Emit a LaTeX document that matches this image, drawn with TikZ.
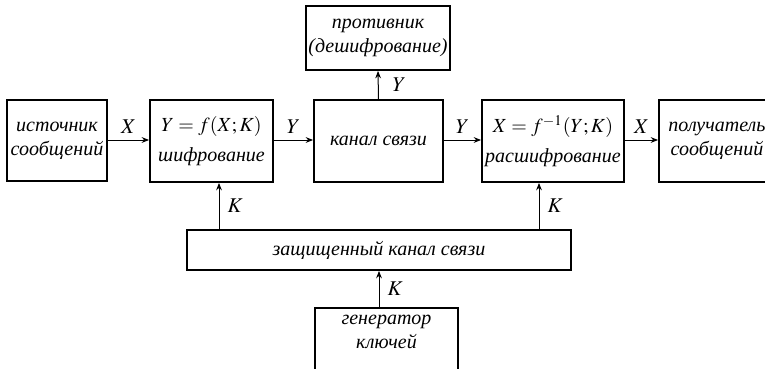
\documentclass[tikz,border=0pt]{standalone}
\usepackage{mathptmx}
\usepackage{fontspec}
\setmainfont{Liberation Serif}
\usetikzlibrary{arrows.meta, positioning}

\begin{document}
\begin{tikzpicture}[
    x=0.5pt, y=-0.5pt,
    box/.style={rectangle, draw, line width=0.9pt, inner sep=1pt, align=center,
        font=\fontsize{10}{12}\selectfont\itshape},
    arrow/.style={-{Stealth[length=1.3mm, width=1mm]}, line width=0.5pt},
    lbl/.style={font=\fontsize{10.5}{12}\selectfont, inner sep=1pt}
]
\useasboundingbox (0,0) rectangle (765,369);
\clip (0,0) rectangle (765,369);

% upper row
\node[box, minimum width=50pt, minimum height=40.5pt] (src) at (57,140.5) {источник\\сообщений};
\node[box, minimum width=61.5pt, minimum height=41pt] (enc) at (211.5,141) {$Y=f(X;K)$\\[3pt]шифрование};
\node[box, minimum width=64.5pt, minimum height=41pt] (chan) at (378.5,141) {канал связи};
\node[box, minimum width=71pt, minimum height=41pt] (dec) at (553,141) {$X=f^{-1}(Y;K)$\\[3pt]расшифрование};
\node[box, minimum width=58pt, minimum height=41pt] (rcv) at (717,141) {получатель\\сообщений};
\node[box, minimum width=72pt, minimum height=32pt] (adv) at (378,38) {противник\\(дешифрование)};

% lower part
\node[box, minimum width=192pt, minimum height=20pt] (sec) at (379,250) {защищенный канал связи};
\node[box, minimum width=71.5pt, minimum height=36pt] (gen) at (386.5,344) {генератор\\ключей\\~};

\draw[arrow] (src.east |- 0,140) -- (enc.west |- 0,140) node[lbl, midway, above=2pt] {$X$};
\draw[arrow] (enc.east |- 0,140) -- (chan.west |- 0,140) node[lbl, midway, above=2pt] {$Y$};
\draw[arrow] (chan.east |- 0,140) -- (dec.west |- 0,140) node[lbl, midway, above=2pt] {$Y$};
\draw[arrow] (dec.east |- 0,140) -- (rcv.west |- 0,140) node[lbl, midway, above=2pt] {$X$};
\draw[arrow] (chan.north) -- (adv.south) node[lbl, midway, right=6pt] {$Y$};
\draw[arrow] (sec.north -| 219,0) -- (enc.south -| 219,0) node[lbl, midway, right=3pt] {$K$};
\draw[arrow] (sec.north -| 539,0) -- (dec.south -| 539,0) node[lbl, midway, right=3pt] {$K$};
\draw[arrow] (gen.north -| 379,0) -- (sec.south -| 379,0) node[lbl, midway, right=3pt] {$K$};

\end{tikzpicture}
\end{document}
